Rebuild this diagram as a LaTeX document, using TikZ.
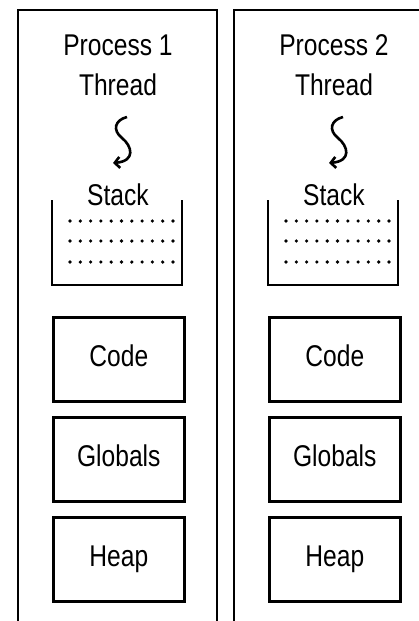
\documentclass[tikz,border=0pt]{standalone}
\usepackage{fontspec}
\setmainfont{Liberation Sans}[FakeStretch=0.82]
\usetikzlibrary{arrows.meta}
\begin{document}
\begin{tikzpicture}[x=1pt,y=-1pt,
  wall/.style={line width=2.8pt, line join=miter},
  memblock/.style={draw, line width=2.6pt, minimum width=131pt, minimum height=84pt, inner sep=0pt,
    text height=15pt, text depth=0pt, font=\fontsize{30}{34}\selectfont},
  lbl/.style={anchor=base, inner sep=0pt, font=\fontsize{30}{34}\selectfont},
  ghost/.style={inner sep=0pt, outer sep=0pt},
  squig/.style={line width=2.6pt, -{Straight Barb[length=5pt,width=11pt,line width=2.6pt]}}
]
\useasboundingbox (0,0) rectangle (418,621);
\foreach \i/\dx in {1/0,2/216}{
  \begin{scope}[xshift=\dx pt]
    % outer process container (open at the bottom)
    \node[ghost, anchor=north west, minimum width=199pt, minimum height=614pt] (proc\i) at (18,10) {};
    \draw[wall] (proc\i.south west) |- (proc\i.north east) -- (proc\i.south east);
    % labels
    \node[lbl] (title\i) at (118,55) {Process \i};
    \node[lbl] (thread\i) at (118,95) {Thread};
    % squiggle thread arrow
    \coordinate (sq\i a) at (127,117);
    \coordinate (sq\i b) at (113,163);
    \draw[squig] (sq\i a) .. controls (115,120) and (112,130) .. (122,138)
                 .. controls (132,146) and (136,161) .. (sq\i b);
    % stack
    \node[lbl] (stacklbl\i) at (118,205) {Stack};
    \node[ghost, anchor=north west, minimum width=130pt, minimum height=85pt] (stack\i) at (52,200) {};
    \draw[line width=2.6pt] (stack\i.north west) |- (stack\i.south east) -- (stack\i.north east);
    \foreach \y in {221,241,262}{
      \foreach \k in {0,...,10}{
        \fill (70+\k*10.3,\y) circle (1.8pt);
      }
    }
    % memory blocks
    \node[memblock, anchor=north west] (code\i) at (52,316) {Code};
    \node[memblock, anchor=north west] (glob\i) at (52,416) {Globals};
    \node[memblock, anchor=north west] (heap\i) at (52,516) {Heap};
  \end{scope}
}
\end{tikzpicture}
\end{document}
